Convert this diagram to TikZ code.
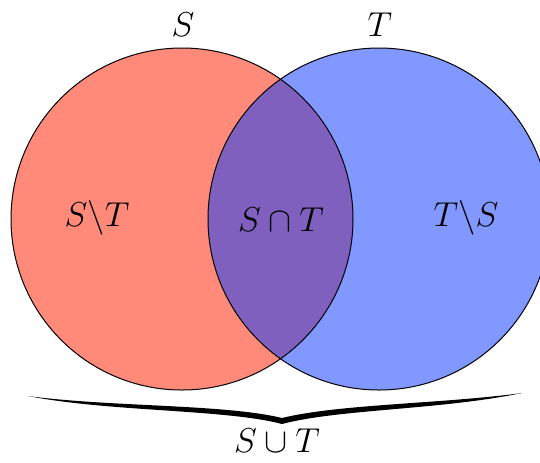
\documentclass[tikz,border=0pt]{standalone}
\usepackage{amsmath}
\usepackage{amssymb}
\usepackage{tikz}
\definecolor{setred}{RGB}{255,138,122}
\definecolor{setblue}{RGB}{128,152,255}
\definecolor{setboth}{RGB}{128,96,190}
\newcommand{\vennfill}[2] {\fill [#2] (#1) circle [radius=171];}
\newcommand{\vennedge}[1] {\draw [line width=0.5pt] (#1) circle [radius=171];}
\newcommand{\vennlabel}[2] {\node at (#1) [font=\fontsize{18.5}{22}\selectfont] {$#2$};}

\begin{document}
\begin{tikzpicture}[x=0.5pt,y=-0.5pt]
\useasboundingbox (0,0) rectangle (540,462);
\coordinate (s) at (182,219);
\coordinate (t) at (379,219);

\vennfill {s} {setred};
\vennfill {t} {setblue};
\begin{scope}
\clip (s) circle [radius=171];
\vennfill {t} {setboth};
\end{scope}
\vennedge {s};
\vennedge {t};

\node (sname) at (183,25) [font=\fontsize{18.5}{22}\selectfont] {$S$};
\node (tname) at (380,25) [font=\fontsize{18.5}{22}\selectfont] {$T$};
\vennlabel {97,218} {S\backslash T};
\vennlabel {281,220} {S\cap T};
\vennlabel {466,218} {T\backslash S};

% tapered brace under both sets
\coordinate (bl) at (28,396);
\coordinate (br) at (522,393);
\coordinate (tip) at (282,424);
\fill (bl) .. controls (110,407) and (225,404) .. (282,418)
  .. controls (339,404) and (440,404) .. (br)
  .. controls (440,410) and (339,409) .. (tip)
  .. controls (225,409) and (110,412) .. (bl) -- cycle;
\node (union) at (277,441) [font=\fontsize{18.5}{22}\selectfont] {$S\cup T$};
\end{tikzpicture}
\end{document}
